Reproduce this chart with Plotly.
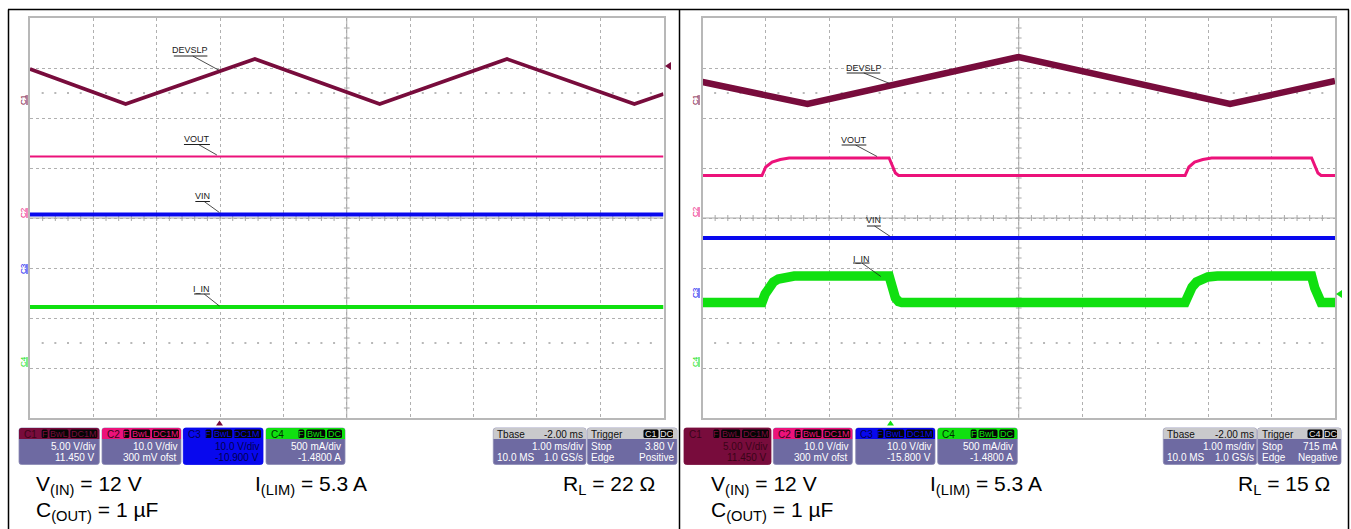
import plotly.graph_objects as go

W, H = 1351, 529
FONT = "Liberation Sans, Arial, sans-serif"

# ---------------- data (screen divisions: x 0..10 div (1 ms/div), y -4..4 div) ----------------
# Left capture, R_L = 22 ohm
left_devslp_t = [0, 1.51, 3.55, 5.52, 7.53, 9.54, 10]
left_devslp_v = [2.98, 2.28, 3.18, 2.28, 3.18, 2.28, 2.48]
left_vout_t = [0, 10]
left_vout_v = [1.23, 1.23]
left_vin_t = [0, 10]
left_vin_v = [0.07, 0.07]
left_iin_t = [0, 10]
left_iin_v = [-1.78, -1.78]

# Right capture, R_L = 15 ohm
right_devslp_t = [0, 1.66, 5.0, 8.34, 10]
right_devslp_v = [2.72, 2.28, 3.22, 2.28, 2.74]
right_vout_t = [0, 0.94, 1.00, 1.10, 1.23, 1.37, 2.95, 3.00, 3.05, 3.10,
                7.63, 7.69, 7.78, 7.91, 8.05, 9.63, 9.68, 9.73, 9.78, 10]
right_vout_v = [0.85, 0.85, 1.02, 1.12, 1.17, 1.20, 1.20, 1.05, 0.90, 0.85,
                0.85, 1.02, 1.12, 1.17, 1.20, 1.20, 1.05, 0.90, 0.85, 0.85]
right_vin_t = [0, 10]
right_vin_v = [-0.40, -0.40]
right_iin_t = [0, 0.94, 0.99, 1.05, 1.12, 1.20, 1.30, 1.45, 2.95, 3.00, 3.05, 3.10, 3.15,
               7.63, 7.68, 7.74, 7.81, 7.89, 7.99, 8.14, 9.63, 9.68, 9.73, 9.78, 10]
right_iin_v = [-1.69, -1.69, -1.52, -1.38, -1.28, -1.22, -1.18, -1.16, -1.16, -1.40, -1.60, -1.67, -1.69,
               -1.69, -1.52, -1.38, -1.28, -1.22, -1.18, -1.16, -1.16, -1.40, -1.60, -1.69, -1.69]

trace_names = ["DEVSLP", "VOUT", "VIN", "I_IN"]

left_channel_boxes = [
    # label, tags, line1, line2
    ("C1", ["F", "BwL", "DC1M"], "5.00 V/div", "11.450 V"),
    ("C2", ["F", "BwL", "DC1M"], "10.0 V/div", "300 mV ofst"),
    ("C3", ["F", "BwL", "DC1M"], "10.0 V/div", "-10.900 V"),
    ("C4", ["F", "BwL", "DC"], "500 mA/div", "-1.4800 A"),
]
right_channel_boxes = [
    ("C1", ["F", "BwL", "DC1M"], "5.00 V/div", "11.450 V"),
    ("C2", ["F", "BwL", "DC1M"], "10.0 V/div", "300 mV ofst"),
    ("C3", ["F", "BwL", "DC1M"], "10.0 V/div", "-15.800 V"),
    ("C4", ["F", "BwL", "DC"], "500 mA/div", "-1.4800 A"),
]
left_tbase = ("-2.00 ms", "1.00 ms/div", "10.0 MS", "1.0 GS/s")
right_tbase = ("-2.00 ms", "1.00 ms/div", "10.0 MS", "1.0 GS/s")
left_trigger = ("C1", "DC", "Stop", "3.80 V", "Edge", "Positive")
right_trigger = ("C4", "DC", "Stop", "715 mA", "Edge", "Negative")

left_notes = ["V<sub>(IN)</sub> = 12 V", "C<sub>(OUT)</sub> = 1 µF", "I<sub>(LIM)</sub> = 5.3 A", "R<sub>L</sub> = 22 Ω"]
right_notes = ["V<sub>(IN)</sub> = 12 V", "C<sub>(OUT)</sub> = 1 µF", "I<sub>(LIM)</sub> = 5.3 A", "R<sub>L</sub> = 15 Ω"]

# ---------------- styles ----------------
CH_COL = {"C1": "#780C3C", "C2": "#EC127A", "C3": "#0808EE", "C4": "#10E010"}
CH_DARK = {"C1": "#3A0418", "C2": "#3A0418", "C3": "#000050", "C4": "#003000"}
BODY = "#6E6AA2"
HEAD_GRAY = "#C9C9CC"
GRID = "#B0B0B0"

fig = go.Figure()
shapes = []
annotations = []


def X(x):
    return x / W


def Y(y):
    return 1 - y / H


def rpath(x0, y0, x1, y1, r=2.5, top=True, bottom=True):
    rt = r if top else 0
    rb = r if bottom else 0
    p = f"M {X(x0 + rt)},{Y(y0)} L {X(x1 - rt)},{Y(y0)} "
    p += f"Q {X(x1)},{Y(y0)} {X(x1)},{Y(y0 + rt)} " if rt else ""
    p += f"L {X(x1)},{Y(y1 - rb)} "
    p += f"Q {X(x1)},{Y(y1)} {X(x1 - rb)},{Y(y1)} " if rb else ""
    p += f"L {X(x0 + rb)},{Y(y1)} "
    p += f"Q {X(x0)},{Y(y1)} {X(x0)},{Y(y1 - rb)} " if rb else ""
    p += f"L {X(x0)},{Y(y0 + rt)} "
    p += f"Q {X(x0)},{Y(y0)} {X(x0 + rt)},{Y(y0)} " if rt else ""
    return p + "Z"


def rrect(x0, y0, x1, y1, fill, r=2.5, top=True, bottom=True, line=None):
    shapes.append(dict(type="path", xref="paper", yref="paper", path=rpath(x0, y0, x1, y1, r, top, bottom),
                       fillcolor=fill, line=dict(width=0.8 if line else 0, color=line or fill)))


def ptext(x, y, text, size, color, xanchor="left", yanchor="middle", **kw):
    annotations.append(dict(x=X(x), y=Y(y), xref="paper", yref="paper", text=text, showarrow=False,
                            font=dict(size=size, color=color, family=FONT), xanchor=xanchor,
                            yanchor=yanchor, **kw))


def tri(points, color):
    p = "M " + " L ".join(f"{X(a)},{Y(b)}" for a, b in points) + " Z"
    shapes.append(dict(type="path", xref="paper", yref="paper", path=p, fillcolor=color,
                       line=dict(width=0, color=color)))


# ---------------- axes / grid ----------------
panels = [
    dict(xa="x", ya="y", xk="xaxis", yk="yaxis", x0=30, x1=663.5),
    dict(xa="x2", ya="y2", xk="xaxis2", yk="yaxis2", x0=702.5, x1=1335),
]
GY0, GY1 = 18, 418
layout_axes = {}
for p in panels:
    layout_axes[p["xk"]] = dict(domain=[X(p["x0"]), X(p["x1"])], range=[0, 10], dtick=1, tick0=0,
                                showgrid=True, gridcolor=GRID, griddash="dot", gridwidth=1,
                                showticklabels=False, ticks="", zeroline=False, showline=True,
                                linecolor="#B8B8B8", linewidth=1.5, mirror=True, fixedrange=True,
                                anchor=p["ya"])
    layout_axes[p["yk"]] = dict(domain=[Y(GY1), Y(GY0)], range=[-4, 4], dtick=1, tick0=0,
                                showgrid=True, gridcolor=GRID, griddash="dot", gridwidth=1,
                                showticklabels=False, ticks="", zeroline=False, showline=True,
                                linecolor="#B8B8B8", linewidth=1.5, mirror=True, fixedrange=True,
                                anchor=p["xa"])

    # centre cross with 0.2-div ticks
    cx, cy = [], []
    cx += [5, 5, None, 0, 10, None]
    cy += [-4, 4, None, 0, 0, None]
    for k in range(1, 40):
        yy = -4 + 0.2 * k
        cx += [4.955, 5.045, None]
        cy += [yy, yy, None]
    for k in range(1, 50):
        xx = 0.2 * k
        cx += [xx, xx, None]
        cy += [-0.06, 0.06, None]
    fig.add_trace(go.Scatter(x=cx, y=cy, mode="lines", line=dict(color="#A8A8A8", width=1),
                             xaxis=p["xa"], yaxis=p["ya"], hoverinfo="skip", showlegend=False))
    # sparse dotted rows
    dx, dy = [], []
    for yy in (2.5, -2.5):
        for k in range(1, 50):
            if k % 5:
                dx.append(0.2 * k)
                dy.append(yy)
    fig.add_trace(go.Scatter(x=dx, y=dy, mode="markers", marker=dict(color="#B8B8B8", size=2, symbol="square"),
                             xaxis=p["xa"], yaxis=p["ya"], hoverinfo="skip", showlegend=False))

# ---------------- waveforms ----------------
left_series = [(left_devslp_t, left_devslp_v, CH_COL["C1"], 3.6),
               (left_vout_t, left_vout_v, CH_COL["C2"], 2.2),
               (left_vin_t, left_vin_v, CH_COL["C3"], 4.2),
               (left_iin_t, left_iin_v, CH_COL["C4"], 3.8)]
right_series = [(right_devslp_t, right_devslp_v, CH_COL["C1"], 6.5),
                (right_vout_t, right_vout_v, CH_COL["C2"], 3.0),
                (right_vin_t, right_vin_v, CH_COL["C3"], 4.2),
                (right_iin_t, right_iin_v, CH_COL["C4"], 9.5)]
for p, series in zip(panels, [left_series, right_series]):
    for name, (t, v, c, w) in zip(trace_names, series):
        fig.add_trace(go.Scatter(x=t, y=v, mode="lines", name=name, line=dict(color=c, width=w),
                                 xaxis=p["xa"], yaxis=p["ya"], showlegend=False))

# ---------------- trace labels with leaders ----------------
left_labels = [  # text, (tx, ty), underline (u0, u1, uy), leader (a0, b0, a1, b1)
    ("DEVSLP", (2.53, 3.36), (2.27, 2.80, 3.24), (2.57, 3.24, 2.99, 2.95)),
    ("VOUT", (2.64, 1.58), (2.43, 2.84, 1.47), (2.66, 1.47, 2.95, 1.26)),
    ("VIN", (2.72, 0.44), (2.61, 2.84, 0.33), (2.75, 0.33, 2.99, 0.11)),
    ("I_IN", (2.71, -1.42), (2.59, 2.84, -1.52), (2.75, -1.52, 2.99, -1.76)),
]
right_labels = [
    ("DEVSLP", (2.55, 3.00), (2.28, 2.81, 2.90), (2.55, 2.90, 2.96, 2.69)),
    ("VOUT", (2.40, 1.56), (2.20, 2.59, 1.46), (2.42, 1.46, 2.76, 1.23)),
    ("VIN", (2.71, -0.04), (2.60, 2.82, -0.16), (2.72, -0.16, 2.97, -0.37)),
    ("I_IN", (2.51, -0.81), (2.38, 2.64, -0.90), (2.52, -0.90, 2.82, -1.17)),
]
for p, labels in zip(panels, [left_labels, right_labels]):
    for text, (tx, ty), (u0, u1, uy), (a0, b0, a1, b1) in labels:
        annotations.append(dict(x=tx, y=ty, xref=p["xa"], yref=p["ya"], text=text, showarrow=False,
                                font=dict(size=9, color="#202020", family=FONT)))
        shapes.append(dict(type="line", xref=p["xa"], yref=p["ya"], x0=u0, x1=u1, y0=uy, y1=uy,
                           line=dict(color="#202020", width=1)))
        shapes.append(dict(type="line", xref=p["xa"], yref=p["ya"], x0=a0, x1=a1, y0=b0, y1=b1,
                           line=dict(color="#202020", width=0.8)))

# channel ground markers (left side of grid)
for xm, marks in [(23, [("C1", 100), ("C2", 213), ("C3", 269), ("C4", 362)]),
                  (695, [("C1", 100), ("C2", 212), ("C3", 293), ("C4", 362)])]:
    for lab, ym in marks:
        ptext(xm, ym, lab, 8, CH_COL[lab], xanchor="center", textangle=-90)
        shapes.append(dict(type="line", xref="paper", yref="paper", x0=X(xm + 4), x1=X(xm + 4),
                           y0=Y(ym - 5), y1=Y(ym + 5), line=dict(color=CH_COL[lab], width=1)))

# trigger level / position arrows
tri([(665, 66), (671, 62), (671, 70)], CH_COL["C1"])
tri([(1336, 294), (1342, 290), (1342, 298)], CH_COL["C4"])
tri([(216, 425.5), (223, 425.5), (219.5, 420.5)], CH_COL["C1"])
tri([(887, 425.5), (894, 425.5), (890.5, 420.5)], CH_COL["C4"])

# ---------------- info boxes ----------------
BY0, BHY, BY1 = 428, 439, 464.5


def channel_box(x0, x1, spec, selected):
    lab, tags, l1, l2 = spec
    col = CH_COL[lab]
    rrect(x0, BY0, x1, BY1, col if selected else BODY, line="#8C8AB4" if not selected else col)
    rrect(x0, BY0, x1, BHY, col, bottom=False)
    ptext(x0 + 2.5, (BY0 + BHY) / 2 + 0.5, lab, 10, CH_DARK[lab])
    # tags right-aligned
    widths = {"F": 6, "BwL": 19, "DC1M": 27, "DC": 15}
    r = x1 - (2 if tags[-1] == "DC1M" else 3)
    for tg in reversed(tags):
        w = widths[tg]
        rrect(r - w, BY0 + 1.5, r, BHY - 1, "#050505", r=1.5)
        ptext(r - w / 2, (BY0 + BHY) / 2 + 0.3, tg, 9, col, xanchor="center")
        r = r - w - 1.8
    tc = CH_DARK[lab] if selected else "#FFFFFF"
    ptext(x1 - 2, 446.5, l1, 10, tc, xanchor="right")
    ptext(x1 - 2, 457.5, l2, 10, tc, xanchor="right")


def tbase_box(x0, x1, spec):
    hdr, l1, l2a, l2b = spec
    rrect(x0, BY0, x1, BY1, BODY, line="#8C8AB4")
    rrect(x0, BY0, x1, BHY, HEAD_GRAY, bottom=False)
    ptext(x0 + 2, (BY0 + BHY) / 2 + 0.5, "Tbase", 10, "#101010")
    ptext(x1 - 1, (BY0 + BHY) / 2 + 0.5, hdr, 10, "#101010", xanchor="right")
    ptext(x1 - 1, 446.5, l1, 10, "#FFFFFF", xanchor="right")
    ptext(x0 + 2, 457.5, l2a, 10, "#FFFFFF")
    ptext(x1 - 1, 457.5, l2b, 10, "#FFFFFF", xanchor="right")


def trigger_box(x0, x1, spec):
    t1, t2, a1, b1, a2, b2 = spec
    rrect(x0, BY0, x1, BY1, BODY, line="#8C8AB4")
    rrect(x0, BY0, x1, BHY, HEAD_GRAY, bottom=False)
    ptext(x0 + 2, (BY0 + BHY) / 2 + 0.5, "Trigger", 10, "#101010")
    r = x1 - 4
    for tg, w in [(t2, 13), (t1, 15)]:
        rrect(r - w, BY0 + 1.5, r, BHY - 1, "#050505", r=1.5)
        ptext(r - w / 2, (BY0 + BHY) / 2 + 0.3, tg, 9, "#E8E8E8", xanchor="center")
        r = r - w - 1.5
    ptext(x0 + 2, 446.5, a1, 10, "#FFFFFF")
    ptext(x1 - 1, 446.5, b1, 10, "#FFFFFF", xanchor="right")
    ptext(x0 + 2, 457.5, a2, 10, "#FFFFFF")
    ptext(x1 - 1, 457.5, b2, 10, "#FFFFFF", xanchor="right")


left_box_x = [(19, 99.3), (102, 181), (183.3, 263), (266, 345)]
right_box_x = [(684, 771), (773.3, 852.3), (855.7, 935), (937.7, 1017.3)]
for (a, b), spec in zip(left_box_x, left_channel_boxes):
    channel_box(a, b, spec, spec[0] == "C3")
for (a, b), spec in zip(right_box_x, right_channel_boxes):
    channel_box(a, b, spec, spec[0] == "C1")
tbase_box(493.3, 586, left_tbase)
trigger_box(587.3, 677, left_trigger)
tbase_box(1163.3, 1256.7, right_tbase)
trigger_box(1257.7, 1341, right_trigger)

# ---------------- notes below the screens ----------------
for off, notes in [(0, left_notes), (674.5, right_notes)]:
    ptext(34 + off, 484.5, notes[0], 21, "#000000")
    ptext(34 + off, 510.5, notes[1], 21, "#000000")
    ptext(253 + off, 484.5, notes[2], 21, "#000000")
    ptext(561 + off, 484.5, notes[3], 21, "#000000")

# ---------------- outer frame ----------------
for x0, y0, x1, y1 in [(8, 9.5, 1349, 9.5), (8.5, 9.5, 8.5, 529), (679.5, 9.5, 679.5, 529),
                       (1348.5, 9.5, 1348.5, 529)]:
    shapes.append(dict(type="line", xref="paper", yref="paper", x0=X(x0), x1=X(x1), y0=Y(y0), y1=Y(y1),
                       line=dict(color="#000000", width=1.5)))

fig.update_layout(width=W, height=H, margin=dict(l=0, r=0, t=0, b=0), paper_bgcolor="white",
                  plot_bgcolor="white", showlegend=False, shapes=shapes, annotations=annotations,
                  font=dict(family=FONT), **layout_axes)
fig.write_html("out.html", config={"displayModeBar": False},
               post_script="document.body.style.margin='0';document.body.style.overflow='hidden';")
